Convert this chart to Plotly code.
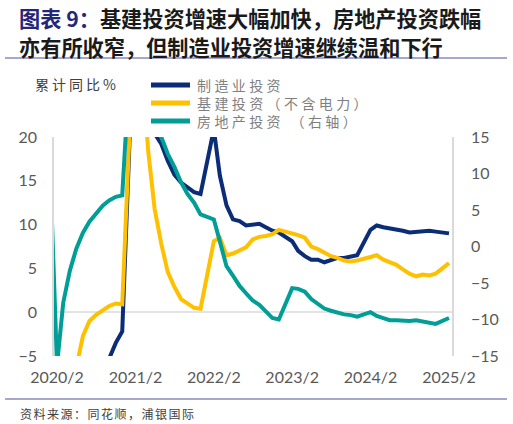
import plotly.graph_objects as go

# ---- data (cumulative YoY, %) ----
months = ["2020-01", "2020-02", "2020-03", "2020-04", "2020-05", "2020-06", "2020-07", "2020-08",
          "2020-09", "2020-10", "2020-11", "2020-12",
          "2021-02", "2021-03", "2021-04", "2021-05", "2021-06", "2021-07", "2021-08", "2021-09",
          "2021-10", "2021-11", "2021-12",
          "2022-02", "2022-03", "2022-04", "2022-05", "2022-06", "2022-07", "2022-08", "2022-09",
          "2022-10", "2022-11", "2022-12",
          "2023-02", "2023-03", "2023-04", "2023-05", "2023-06", "2023-07", "2023-08", "2023-09",
          "2023-10", "2023-11", "2023-12",
          "2024-02", "2024-03", "2024-04", "2024-05", "2024-06", "2024-07", "2024-08", "2024-09",
          "2024-10", "2024-11", "2024-12",
          "2025-02"]

manufacturing = [None, -31.5, -25.2, -18.8, -14.8, -11.7, -10.2, -8.1, -6.5, -5.3, -3.5, -2.2,
                 37.3, 29.8, 23.8, 20.4, 19.2, 17.3, 15.7, 14.8, 14.2, 13.7, 13.5,
                 20.9, 15.6, 12.2, 10.6, 10.4, 9.9, 10.0, 10.1, 9.7, 9.3, 9.1,
                 8.1, 7.0, 6.4, 6.0, 6.0, 5.7, 5.9, 6.2, 6.2, 6.3, 6.5,
                 9.4, 9.9, 9.7, 9.6, 9.5, 9.3, 9.1, 9.2, 9.3, 9.3, 9.2,
                 9.0]

infrastructure = [None, -30.3, -19.7, -11.8, -6.3, -2.7, -1.0, -0.3, 0.2, 0.7, 1.0, 0.9,
                  36.6, 29.7, 18.4, 11.8, 7.8, 4.6, 2.9, 1.5, 1.0, 0.5, 0.4,
                  8.1, 8.5, 6.5, 6.7, 7.1, 7.4, 8.3, 8.6, 8.7, 8.9, 9.4,
                  9.0, 8.8, 8.5, 7.5, 7.2, 6.8, 6.4, 6.2, 5.9, 5.8, 5.9,
                  6.3, 6.5, 6.0, 5.7, 5.4, 4.9, 4.4, 4.1, 4.3, 4.2, 4.4,
                  5.6]

real_estate = [9.9, -16.3, -7.7, -3.3, -0.3, 1.9, 3.4, 4.6, 5.6, 6.3, 6.8, 7.0,
               38.3, 25.6, 21.6, 18.3, 15.0, 12.7, 10.9, 8.8, 7.2, 6.0, 4.4,
               3.7, 0.7, -2.7, -4.0, -5.4, -6.4, -7.4, -8.0, -8.8, -9.8, -10.0,
               -5.7, -5.8, -6.2, -7.2, -7.9, -8.5, -8.8, -9.1, -9.3, -9.4, -9.6,
               -9.0, -9.5, -9.8, -10.1, -10.1, -10.2, -10.2, -10.1, -10.3, -10.4, -10.6,
               -9.8]

series_names = ["制造业投资", "基建投资（不含电力）", "房地产投资 （右轴）"]
series_colors = ["#0B2D78", "#FFC000", "#009E96"]

tick_vals = ["2020-02-01", "2021-02-01", "2022-02-01", "2023-02-01", "2024-02-01", "2025-02-01"]
tick_text = ["2020/2", "2021/2", "2022/2", "2023/2", "2024/2", "2025/2"]

title_prefix = "图表 9："
title_line1 = "基建投资增速大幅加快，房地产投资跌幅"
title_line2 = "亦有所收窄，但制造业投资增速继续温和下行"
unit_label = "累计同比%"
source_text = "资料来源：同花顺，浦银国际"

# ---- figure ----
W, H = 513, 424
L, R, T, B = 54, 61, 137, 68
PW, PH = W - L - R, H - T - B


def px(xp):
    return (xp - L) / PW


def py(yp):
    return (H - B - yp) / PH


fig = go.Figure()
fig.add_trace(go.Scatter(x=months, y=manufacturing, name=series_names[0], mode="lines",
                         line=dict(color=series_colors[0], width=4), yaxis="y"))
fig.add_trace(go.Scatter(x=months, y=infrastructure, name=series_names[1], mode="lines",
                         line=dict(color=series_colors[1], width=4), yaxis="y"))
fig.add_trace(go.Scatter(x=months, y=real_estate, name=series_names[2], mode="lines",
                         line=dict(color=series_colors[2], width=4), yaxis="y2"))

tick_font = dict(family="Lato, Noto Sans, sans-serif", size=16, color="#595959")

fig.update_layout(
    width=W, height=H,
    margin=dict(l=L, r=R, t=T, b=B, pad=0),
    paper_bgcolor="white", plot_bgcolor="white",
    showlegend=False,
    xaxis=dict(type="date", range=["2020-01-18", "2025-02-15"],
               tickvals=tick_vals, ticktext=tick_text, tickfont=tick_font,
               showgrid=False, zeroline=False, showline=False, ticks="",
               ticklabelstandoff=10),
    yaxis=dict(range=[-5, 20], dtick=5, tick0=0, tickfont=tick_font,
               showgrid=False, zeroline=True, zerolinecolor="#E3E3E3", zerolinewidth=2,
               showline=True, linecolor="#DADADA", linewidth=1.5, ticks="",
               ticklabelstandoff=12),
    yaxis2=dict(range=[-15, 15], dtick=5, tick0=0, tickfont=tick_font,
                overlaying="y", side="right",
                showgrid=False, zeroline=False,
                showline=True, linecolor="#DADADA", linewidth=1.5, ticks="",
                ticklabelstandoff=14),
)

shapes = []
annotations = []

title_font = dict(family="Noto Sans CJK SC", size=21.2, color="#1A1A1A", weight="bold")
# title
annotations.append(dict(xref="paper", yref="paper", x=px(17), y=py(17), xanchor="left", yanchor="middle",
                        showarrow=False,
                        text=f"<span style='color:#25267A'>{title_prefix}</span>{title_line1}",
                        font=title_font))
annotations.append(dict(xref="paper", yref="paper", x=px(17), y=py(46), xanchor="left", yanchor="middle",
                        showarrow=False, text=title_line2, font=title_font))
# rules
shapes.append(dict(type="line", xref="paper", yref="paper", x0=px(5), x1=px(507), y0=py(58), y1=py(58),
                   line=dict(color="#A7A7CE", width=2)))
shapes.append(dict(type="line", xref="paper", yref="paper", x0=px(5), x1=px(507), y0=py(399), y1=py(399),
                   line=dict(color="#A7A7CE", width=2)))

# unit label
annotations.append(dict(xref="paper", yref="paper", x=px(33), y=py(84), xanchor="left", yanchor="middle",
                        showarrow=False,
                        text=f"<span style='letter-spacing:3px'>{unit_label}</span>",
                        font=dict(family="Noto Sans CJK SC", size=14, color="#404040")))

# legend (line samples + one text block, rows 18 px apart)
legend_rows = [85, 103, 121]
for color, row in zip(series_colors, legend_rows):
    shapes.append(dict(type="line", xref="paper", yref="paper", x0=px(151), x1=px(190),
                       y0=py(row), y1=py(row), line=dict(color=color, width=5)))
legend_text = "<br>".join(f"<span style='letter-spacing:3.4px'>{n}</span>" for n in series_names)
annotations.append(dict(xref="paper", yref="paper", x=px(195), y=py(103), xanchor="left",
                        yanchor="middle", align="left", showarrow=False, text=legend_text,
                        font=dict(family="Noto Sans CJK SC", size=14, color="#7F7F7F")))

# source
annotations.append(dict(xref="paper", yref="paper", x=px(18), y=py(413), xanchor="left", yanchor="middle",
                        showarrow=False,
                        text=f"<span style='letter-spacing:1.5px'>{source_text}</span>",
                        font=dict(family="Noto Sans CJK SC", size=12, color="#404040")))

fig.update_layout(shapes=shapes, annotations=annotations)
fig.write_html("out.html", config={"displayModeBar": False},
               post_script="document.body.style.margin='0';document.body.style.padding='0';")
